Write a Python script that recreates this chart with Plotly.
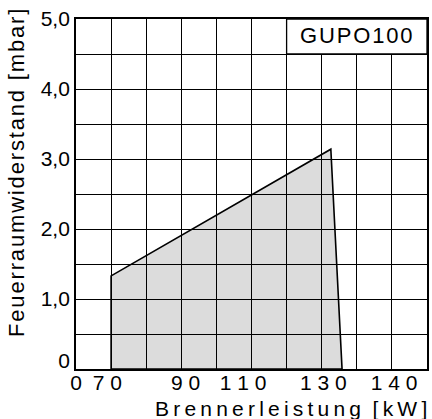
import plotly.graph_objects as go

# ---- data ----
power_kw = [70, 70, 132.6, 135.8]          # Brennerleistung [kW]
resistance_mbar = [0, 1.33, 3.14, 0]        # Feuerraumwiderstand [mbar]

x_tick_pos = [60, 68.9, 91.2, 107.6, 130.5, 150.6]
x_tick_text = ["0", "70", "90", "110", "130", "140"]
y_tick_pos = [0.12, 1, 2, 3, 4, 5]
y_tick_text = ["0", "1,0", "2,0", "3,0", "4,0", "5,0"]

x_range = [60, 160]
y_range = [0, 5]
label_text = "GUPO100"
x_title_name = "Brennerleistung"
x_title_unit = "[kW]"
y_title = "Feuerraumwiderstand [mbar]"

HAIR = "\u200a"
THIN = "\u2009"
FONT = "Liberation Sans, Arial, Helvetica, sans-serif"

fig = go.Figure()

# polygon outline (trace)
fig.add_trace(go.Scatter(
    x=power_kw + [power_kw[0]], y=resistance_mbar + [resistance_mbar[0]],
    mode="lines", line=dict(color="black", width=1.6),
    hoverinfo="skip", showlegend=False,
))

# polygon fill below gridlines
path = "M " + " L ".join(f"{x},{y}" for x, y in zip(power_kw, resistance_mbar)) + " Z"
fig.add_shape(type="path", path=path, xref="x", yref="y", layer="below",
              fillcolor="#dcdcdc", line=dict(width=0))

# label box in the top right cell
fig.add_shape(type="rect", xref="x", yref="y", x0=120, x1=160, y0=4.5, y1=5.0,
              layer="between", fillcolor="white", line=dict(color="black", width=1.3))
fig.add_annotation(x=140, y=4.76, xref="x", yref="y", text=HAIR.join(label_text),
                   showarrow=False, font=dict(family=FONT, size=22, color="black"))

# axis titles
fig.add_annotation(xref="paper", yref="paper", x=1.0, y=0, xanchor="right", yanchor="top",
                   yshift=-26, xshift=2,
                   text=THIN.join(x_title_name) + "\u00a0\u00a0" + THIN.join(x_title_unit),
                   showarrow=False, font=dict(family=FONT, size=21, color="black"))
fig.add_annotation(xref="paper", yref="paper", x=0, y=0.56, xanchor="center", yanchor="middle",
                   xshift=-59, textangle=-90,
                   text=HAIR.join(y_title), showarrow=False,
                   font=dict(family=FONT, size=22, color="black"))

fig.update_xaxes(
    range=x_range, tickmode="array", tickvals=x_tick_pos,
    ticktext=[" ".join(t) for t in x_tick_text],
    showgrid=False, zeroline=False, ticks="", showline=True, linecolor="black",
    linewidth=1.8, mirror=True, ticklabelstandoff=-6,
    tickfont=dict(family=FONT, size=21, color="black"),
    minor=dict(tick0=60, dtick=10, showgrid=True, gridcolor="black", gridwidth=1.2, ticks=""),
)
fig.update_yaxes(
    range=y_range, tickmode="array", tickvals=y_tick_pos,
    ticktext=y_tick_text,
    showgrid=False, zeroline=False, ticks="", showline=True, linecolor="black",
    linewidth=1.8, mirror=True,
    tickfont=dict(family=FONT, size=21, color="black"),
    minor=dict(tick0=0, dtick=0.5, showgrid=True, gridcolor="black", gridwidth=1.2, ticks=""),
)

fig.update_layout(
    width=432, height=419,
    margin=dict(l=76, r=3, t=19, b=50, pad=0),
    plot_bgcolor="white", paper_bgcolor="white",
    showlegend=False,
)

fig.write_html("out.html", config={"displayModeBar": False},
               post_script="document.body.style.margin='0';")
